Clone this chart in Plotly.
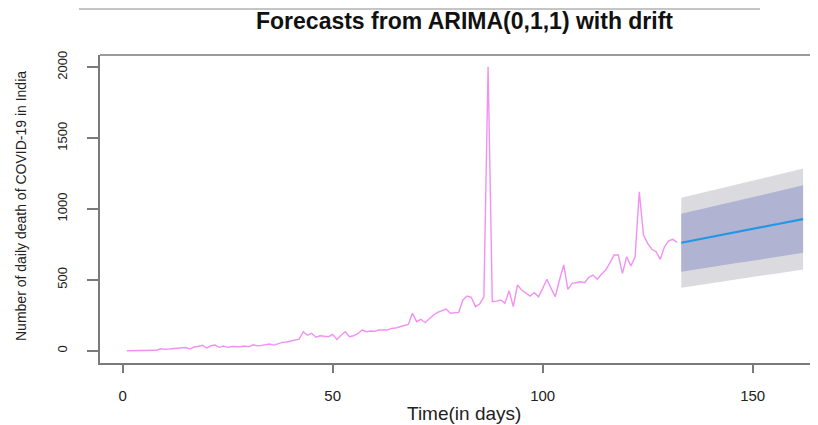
import plotly.graph_objects as go

# ---- data ----
obs_days = list(range(1, 133))
obs_deaths = [
    0, 0, 1, 0, 1, 1, 2, 3, 14, 10,
    12, 14, 18, 20, 23, 12, 26, 30, 38, 19,
    35, 40, 24, 33, 24, 30, 29, 28, 33, 28,
    42, 35, 38, 40, 47, 40, 52, 59, 62, 68,
    75, 82, 134, 109, 123, 95, 106, 104, 99, 116,
    80, 110, 134, 99, 106, 120, 146, 134, 139, 137,
    146, 146, 146, 158, 160, 169, 178, 186, 264, 205,
    222, 198, 225, 252, 270, 280, 294, 264, 268, 271,
    358, 386, 377, 311, 330, 381, 2003, 346, 350, 358,
    334, 423, 311, 464, 428, 405, 386, 409, 381, 440,
    504, 440, 381, 499, 605, 433, 475, 480, 487, 480,
    518, 534, 504, 540, 569, 620, 675, 675, 546, 663,
    598, 663, 1122, 817, 758, 716, 699, 645, 734, 776,
    786, 765,
]

fc_days = list(range(133, 163))
fc_mean = [762, 768, 774, 779, 785, 791, 797, 802, 808, 814,
           820, 825, 831, 837, 843, 848, 854, 860, 866, 871,
           877, 883, 889, 894, 900, 906, 912, 917, 923, 929]
lo80 = [557, 562, 567, 571, 575, 580, 585, 589, 594, 599,
        604, 607, 612, 617, 622, 626, 631, 636, 640, 644,
        649, 654, 659, 663, 667, 672, 677, 681, 686, 691]
hi80 = [967, 974, 981, 987, 995, 1002, 1009, 1015, 1022, 1029,
        1036, 1043, 1050, 1057, 1064, 1070, 1077, 1084, 1092, 1098,
        1105, 1112, 1119, 1125, 1133, 1140, 1147, 1153, 1160, 1167]
lo95 = [444, 449, 453, 457, 462, 466, 471, 475, 480, 484,
        489, 493, 498, 502, 507, 511, 515, 520, 525, 528,
        533, 538, 542, 546, 551, 555, 560, 564, 568, 573]
hi95 = [1080, 1087, 1095, 1101, 1108, 1116, 1123, 1129, 1136, 1144,
        1151, 1157, 1164, 1172, 1179, 1185, 1193, 1200, 1207, 1214,
        1221, 1228, 1236, 1242, 1249, 1257, 1264, 1270, 1278, 1285]

x_ticks = [0, 50, 100, 150]
y_ticks = [0, 500, 1000, 1500, 2000]

title_text = "Forecasts from ARIMA(0,1,1) with drift"
x_title = "Time(in days)"
y_title = "Number of daily death of COVID-19 in India"

FONT = "Liberation Sans, Arial, sans-serif"
AXIS_COL = "#7a7a7a"

fig = go.Figure()

# 95% band
fig.add_trace(go.Scatter(x=fc_days, y=hi95, mode="lines", line=dict(width=0),
                         showlegend=False, hoverinfo="skip"))
fig.add_trace(go.Scatter(x=fc_days, y=lo95, mode="lines", line=dict(width=0),
                         fill="tonexty", fillcolor="#DBDBDF",
                         showlegend=False, hoverinfo="skip"))
# 80% band
fig.add_trace(go.Scatter(x=fc_days, y=hi80, mode="lines", line=dict(width=0),
                         showlegend=False, hoverinfo="skip"))
fig.add_trace(go.Scatter(x=fc_days, y=lo80, mode="lines", line=dict(width=0),
                         fill="tonexty", fillcolor="#B0B3D1",
                         showlegend=False, hoverinfo="skip"))
# forecast mean
fig.add_trace(go.Scatter(x=fc_days, y=fc_mean, mode="lines",
                         line=dict(color="#2297E6", width=2.2), showlegend=False))
# observed
fig.add_trace(go.Scatter(x=obs_days, y=obs_deaths, mode="lines",
                         line=dict(color="#F291F2", width=1.4), showlegend=False))

# page body has an 8px margin, so the figure is placed at (8, 8) in the window
OFF = 8
W, H = 810, 417
L, R, T, B = 92, 0, 47, 62
pw = W - L - R
ph = H - T - B

def px_to_paper_x(px):
    return (px - OFF - L) / pw

def py_to_paper_y(py):
    return (H - B - (py - OFF)) / ph

fig.update_layout(
    width=W, height=H,
    margin=dict(l=L, r=R, t=T, b=B),
    paper_bgcolor="white", plot_bgcolor="white",
    font=dict(family=FONT, color="#222"),
    showlegend=False,
    xaxis=dict(range=[-5.40, 165.55], tickvals=x_ticks, ticks="outside", ticklen=8,
               tickwidth=1.5, tickcolor=AXIS_COL, showline=True, linecolor=AXIS_COL,
               linewidth=1.5, showgrid=False, zeroline=False,
               tickfont=dict(size=15, family=FONT, color="#222"),
               ticklabelstandoff=10),
    yaxis=dict(range=[-86.5, 2086.5], tickvals=y_ticks, ticks="outside", ticklen=11,
               tickwidth=1.5, tickcolor=AXIS_COL, showline=True, linecolor=AXIS_COL,
               linewidth=1.5, showgrid=False, zeroline=False, tickangle=-90,
               tickfont=dict(size=13, family=FONT, color="#222"),
               ticklabelstandoff=15),
    shapes=[
        # top border of the plot box
        dict(type="line", xref="paper", yref="paper", x0=0, x1=1, y0=1, y1=1,
             line=dict(color=AXIS_COL, width=1.5)),
        # separator line above the title (as high as the page allows)
        dict(type="line", xref="paper", yref="paper",
             x0=px_to_paper_x(79), x1=px_to_paper_x(760),
             y0=py_to_paper_y(9), y1=py_to_paper_y(9),
             line=dict(color="#8a8a8a", width=1)),
    ],
    annotations=[
        dict(text=f"<b>{title_text}</b>", xref="paper", yref="paper",
             x=px_to_paper_x(464), y=py_to_paper_y(21), xanchor="center", yanchor="middle",
             showarrow=False, font=dict(size=23, family=FONT, color="#111")),
        dict(text=x_title, xref="paper", yref="paper",
             x=px_to_paper_x(464), y=py_to_paper_y(413), xanchor="center", yanchor="middle",
             showarrow=False, font=dict(size=19, family=FONT, color="#222")),
        dict(text=y_title, xref="paper", yref="paper", textangle=-90,
             x=px_to_paper_x(21), y=py_to_paper_y(206), xanchor="center", yanchor="middle",
             showarrow=False, font=dict(size=14, family=FONT, color="#222")),
    ],
)

fig.write_html("out.html")
